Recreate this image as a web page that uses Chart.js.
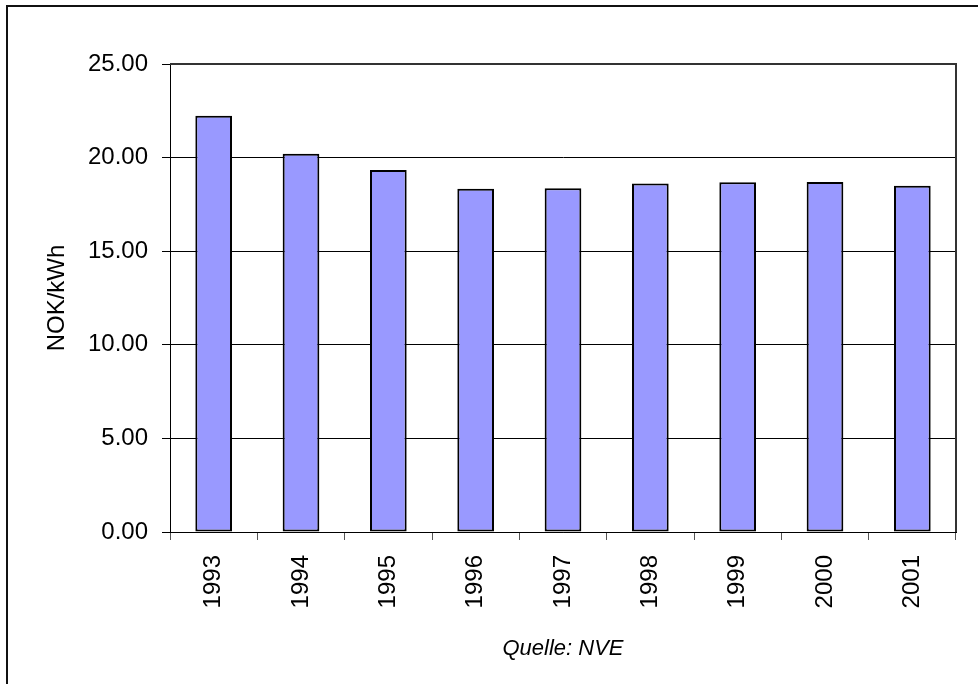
<!DOCTYPE html>
<html>
<head>
<meta charset="utf-8">
<script src="https://cdn.jsdelivr.net/npm/chart.js@4/dist/chart.umd.min.js"></script>
<style>
  html, body { margin: 0; padding: 0; background: #ffffff; }
  #wrap { width: 978px; height: 684px; }
</style>
</head>
<body>
<div id="wrap"><canvas id="c" width="978" height="684"></canvas></div>
<script>
const years = ['1993', '1994', '1995', '1996', '1997', '1998', '1999', '2000', '2001'];
const values = [22.24, 20.21, 19.34, 18.34, 18.36, 18.61, 18.68, 18.70, 18.50];
const yTicks = [0, 5, 10, 15, 20, 25];
const yTitle = 'NOK/kWh';
const xTitle = 'Quelle: NVE';

const FONT = "'Liberation Sans', Arial, sans-serif";

const framePlugin = {
  id: 'frame',
  beforeDraw(chart) {
    const ctx = chart.ctx;
    ctx.save();
    ctx.fillStyle = '#ffffff';
    ctx.fillRect(0, 0, chart.width, chart.height);
    ctx.restore();
  },
  afterDraw(chart) {
    const ctx = chart.ctx;
    const a = chart.chartArea;
    ctx.save();
    // plot area frame (top & right)
    ctx.strokeStyle = '#333333';
    ctx.lineWidth = 2;
    ctx.beginPath();
    ctx.moveTo(a.left, a.top);
    ctx.lineTo(a.right, a.top);
    ctx.lineTo(a.right, a.bottom);
    ctx.stroke();
    // outer chart frame (left & top visible)
    ctx.strokeStyle = '#111111';
    ctx.lineWidth = 2;
    ctx.beginPath();
    ctx.moveTo(7, chart.height);
    ctx.lineTo(7, 6);
    ctx.lineTo(chart.width, 6);
    ctx.stroke();
    ctx.restore();
  }
};

new Chart(document.getElementById('c'), {
  type: 'bar',
  data: {
    labels: years,
    datasets: [{
      data: values,
      backgroundColor: '#9999FF',
      borderColor: '#000000',
      borderWidth: 2,
      borderSkipped: false,
      barPercentage: 0.42,
      categoryPercentage: 1.0
    }]
  },
  plugins: [framePlugin],
  options: {
    responsive: false,
    animation: false,
    devicePixelRatio: 1,
    layout: { padding: { top: 64, right: 22, left: 0, bottom: 0 } },
    plugins: {
      legend: { display: false },
      tooltip: { enabled: false },
      title: { display: false }
    },
    scales: {
      x: {
        offset: true,
        grid: {
          offset: true,
          drawOnChartArea: false,
          drawTicks: true,
          tickLength: 8,
          color: '#555555',
          lineWidth: 1
        },
        border: { display: true, color: '#000000', width: 1 },
        ticks: {
          autoSkip: false,
          minRotation: 90,
          maxRotation: 90,
          padding: 15,
          color: '#000000',
          font: { family: FONT, size: 24 }
        },
        title: {
          display: true,
          text: xTitle,
          color: '#000000',
          font: { family: FONT, size: 22, style: 'italic' },
          padding: { top: 0, bottom: 22 }
        },
        afterFit(scale) { scale.height = 152; }
      },
      y: {
        min: 0,
        max: 25,
        afterBuildTicks(scale) { scale.ticks = yTicks.map(v => ({ value: v })); },
        grid: {
          color: '#000000',
          lineWidth: 1,
          tickLength: 8,
          drawTicks: true
        },
        border: { display: true, color: '#000000', width: 1 },
        ticks: {
          padding: 14,
          color: '#000000',
          font: { family: FONT, size: 24 },
          callback: (v) => Number(v).toFixed(2)
        },
        title: {
          display: true,
          text: yTitle,
          color: '#000000',
          font: { family: FONT, size: 24 },
          padding: { top: 43, bottom: 0 }
        },
        afterFit(scale) { scale.width = 170; }
      }
    }
  }
});
</script>
</body>
</html>
